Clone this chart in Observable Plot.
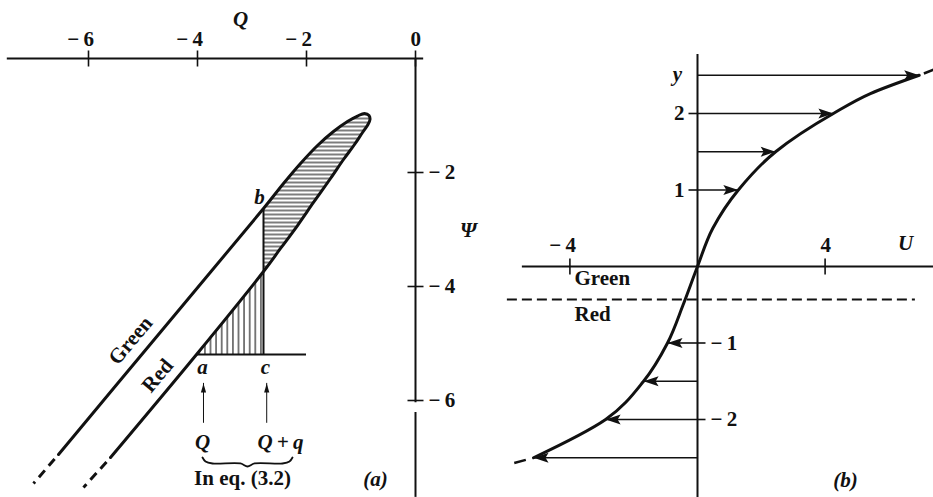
<!DOCTYPE html>
<html><head><meta charset="utf-8">
<script src="https://cdn.jsdelivr.net/npm/d3@7"></script>
<script src="https://cdn.jsdelivr.net/npm/@observablehq/plot@0.6"></script>
<style>
html,body{margin:0;padding:0;background:#fff;}
#fig{position:relative;width:933px;height:497px;overflow:hidden;background:#fff;}
#fig svg{position:absolute;top:0;}
</style></head><body><div id="fig"></div>
<script>
// ===== Panel (a): Q–Ψ diagram =====
const qTicks = [-6, -4, -2, 0];
const psiTicks = [-2, -4, -6];
const qAxisExtent = [-7.49, 0.15];
const psiAxisSegments = [{from: 0.0, to: -6.04}, {from: -6.21, to: -7.70}];

// Green branch (lower-left straight part, up to the tip of the loop)
const greenQ   = [-6.550, -4.670, -2.789, -2.422, -2.110, -1.798, -1.505, -1.248, -1.064, -0.936, -0.853, -0.835];
const greenPsi = [-6.947, -4.789, -2.632, -2.193, -1.842, -1.526, -1.281, -1.105, -1.009, -0.965, -1.000, -1.070];
// Red branch (from the tip of the loop down to lower-left)
const redQ   = [-0.835, -0.872, -0.972, -1.119, -1.321, -1.560, -1.872, -2.165, -2.477, -2.789, -4.018, -5.596];
const redPsi = [-1.070, -1.158, -1.298, -1.509, -1.772, -2.105, -2.526, -2.930, -3.333, -3.737, -5.193, -7.000];
// dashed continuations
const greenDashQ = [-6.550, -7.009], greenDashPsi = [-6.947, -7.456];
const redDashQ = [-5.596, -6.092],   redDashPsi = [-7.000, -7.526];

// points a, b, c
const aQ = -4.018, cQ = -2.789, acPsi = -5.193, bPsi = -2.632, lineEndQ = -2.0;
// small arrows under a and c
const smallArrowQ = [-3.89, -2.73];
const smallArrowPsi = [-6.40, -5.70];
// brace under "Q  Q+q"
const braceQ   = [-3.908, -3.853, -3.725, -3.211, -3.083, -2.954, -2.440, -2.312, -2.257];
const bracePsi = [-7.000, -7.070, -7.105, -7.105, -7.158, -7.105, -7.105, -7.070, -7.000];

const italicLabelsA = [
  {text: "Q", q: -3.211, psi: 0.684},
  {text: "\u03A8", q: 0.972, psi: -3.018},
  {text: "b", q: -2.862, psi: -2.439},
  {text: "a", q: -3.908, psi: -5.421},
  {text: "c", q: -2.752, psi: -5.421},
  {text: "Q", q: -3.908, psi: -6.737},
  {text: "Q\u2009+\u2009q", q: -2.477, psi: -6.737},
  {text: "(a)", q: -0.734, psi: -7.386}
];
const romanLabelsA = [{text: "In eq. (3.2)", q: -3.174, psi: -7.368}];
const lineLabelsA = [{text: "Green", q: -5.229, psi: -4.947}, {text: "Red", q: -4.734, psi: -5.561}];

// ===== Panel (b): U–y profile =====
const uTicks = [-4, 4];
const yTicksLeft = [1, 2];
const yTicksRight = [-1, -2];
const uAxisExtent = [-5.49, 7.40];
const yAxisExtent = [-3.02, 2.77];
const arrowY = [2.5, 2, 1.5, 1, -1, -1.5, -2, -2.5];
const arrowU = [6.95, 4.26, 2.45, 1.28, -0.94, -1.69, -2.88, -5.14];
const curveY = [-2.5, -2.0, -1.5, -1.0, -0.5, 0, 0.5, 1.0, 1.5, 2.0, 2.26, 2.5];
const curveU = [-5.14, -2.88, -1.69, -0.94, -0.45, 0, 0.48, 1.28, 2.45, 4.26, 5.42, 6.95];
const curveDashLowU = [-5.14, -5.80], curveDashLowY = [-2.5, -2.575];
const curveDashHighU = [6.95, 7.45],  curveDashHighY = [2.5, 2.58];
const separatorY = -0.431, separatorExtent = [-5.96, 6.83];
const italicLabelsB = [
  {text: "y", u: -0.627, y: 2.51},
  {text: "U", u: 6.52, y: 0.30},
  {text: "(b)", u: 4.64, y: -2.797}
];
const romanLabelsB = [{text: "Green", u: -3.856, y: -0.157}, {text: "Red", u: -3.856, y: -0.627}];

// ===== helpers =====
const ink = "#111";
const font = {fontFamily: "Liberation Serif", fontSize: 21, fontWeight: "bold"};
const zip = (xs, ys, kx, ky) => xs.map((v, i) => ({[kx]: v, [ky]: ys[i]}));
const neg = v => (v < 0 ? "\u2212\u2009" + Math.abs(v) : String(v));
const headRight = {draw(c) { c.moveTo(0, 0); c.lineTo(-15, -5); c.lineTo(-12, 0); c.lineTo(-15, 5); c.closePath(); }};
const headLeft  = {draw(c) { c.moveTo(0, 0); c.lineTo(15, -5); c.lineTo(12, 0); c.lineTo(15, 5); c.closePath(); }};
const headUp    = {draw(c) { c.moveTo(0, 0); c.lineTo(-2.6, 9); c.lineTo(2.6, 9); c.closePath(); }};
const tickV     = {draw(c) { c.moveTo(0, -8); c.lineTo(0, 8); }};
const tickH     = {draw(c) { c.moveTo(-8, 0); c.lineTo(8, 0); }};
const tickLeft  = {draw(c) { c.moveTo(0, 0); c.lineTo(-9, 0); }};
const tickRight = {draw(c) { c.moveTo(0, 0); c.lineTo(8, 0); }};

// ===== build panel (a) =====
const green = zip(greenQ, greenPsi, "q", "psi");
const red = zip(redQ, redPsi, "q", "psi");
const loop = green.concat(red.slice(1));
const hatchH = green.slice(2).concat(red.slice(1, 10));
const hatchV = [{q: aQ, psi: acPsi}, {q: cQ, psi: acPsi}, {q: cQ, psi: redPsi[9]}];
const smallArrows = smallArrowQ.map(q => ({q, psi0: smallArrowPsi[0], psi1: smallArrowPsi[1]}));

const plotA = Plot.plot({
  width: 500, height: 497, margin: 0,
  x: {domain: [-415 / 54.5, (500 - 415) / 54.5], axis: null},
  y: {domain: [-(497 - 58) / 57, 58 / 57], axis: null},
  style: {background: "transparent", overflow: "visible"},
  marks: [
    Plot.line(hatchH, {x: "q", y: "psi", curve: "catmull-rom", fill: "url(#hatchH)", stroke: "none"}),
    Plot.line(hatchV, {x: "q", y: "psi", fill: "url(#hatchV)", stroke: "none"}),
    // axes
    Plot.ruleY([0], {x1: qAxisExtent[0], x2: qAxisExtent[1], stroke: ink, strokeWidth: 2}),
    Plot.ruleX(psiAxisSegments, {x: 0, y1: "from", y2: "to", stroke: ink, strokeWidth: 2}),
    Plot.dot(qTicks, {x: d => d, y: 0, symbol: tickV, stroke: ink, fill: "none", strokeWidth: 1.6}),
    Plot.dot(psiTicks, {x: 0, y: d => d, symbol: tickH, stroke: ink, fill: "none", strokeWidth: 1.6}),
    Plot.text(qTicks, {x: d => d, y: 0, text: neg, textAnchor: "end", dx: 5.5, dy: -19, fill: ink, ...font}),
    Plot.text(psiTicks, {x: 0, y: d => d, text: neg, textAnchor: "start", dx: 13, fill: ink, ...font}),
    // a–c base line and c–b vertical
    Plot.ruleY([acPsi], {x1: aQ, x2: lineEndQ, stroke: ink, strokeWidth: 2}),
    Plot.ruleX([cQ], {y1: acPsi, y2: bPsi, stroke: ink, strokeWidth: 2}),
    // green/red curves
    Plot.line(loop, {x: "q", y: "psi", curve: "catmull-rom", stroke: ink, strokeWidth: 3}),
    Plot.line(zip(greenDashQ, greenDashPsi, "q", "psi"), {x: "q", y: "psi", stroke: ink, strokeWidth: 3, strokeLinecap: "butt", strokeDasharray: "9,6", strokeDashoffset: 9}),
    Plot.line(zip(redDashQ, redDashPsi, "q", "psi"), {x: "q", y: "psi", stroke: ink, strokeWidth: 3, strokeLinecap: "butt", strokeDasharray: "9,6", strokeDashoffset: 9}),
    // small arrows
    Plot.ruleX(smallArrows, {x: "q", y1: "psi0", y2: "psi1", stroke: ink, strokeWidth: 1}),
    Plot.dot(smallArrows, {x: "q", y: "psi1", symbol: headUp, fill: ink, stroke: "none"}),
    // brace
    Plot.line(zip(braceQ, bracePsi, "q", "psi"), {x: "q", y: "psi", curve: "catmull-rom", stroke: ink, strokeWidth: 1.8}),
    // labels
    Plot.text(italicLabelsA, {x: "q", y: "psi", text: "text", fill: ink, fontStyle: "italic", ...font}),
    Plot.text(romanLabelsA, {x: "q", y: "psi", text: "text", fill: ink, ...font}),
    Plot.text(lineLabelsA, {x: "q", y: "psi", text: "text", rotate: -50, fill: ink, ...font})
  ]
});
d3.select(plotA).insert("defs", ":first-child").html(
  '<pattern id="hatchH" patternUnits="userSpaceOnUse" width="8" height="4">' +
  '<path d="M0,2H8" stroke="#111" stroke-width="1.1"/></pattern>' +
  '<pattern id="hatchV" patternUnits="userSpaceOnUse" width="5.6" height="8">' +
  '<path d="M2.8,0V8" stroke="#111" stroke-width="1.1"/></pattern>'
);
plotA.style.left = "0px";

// ===== build panel (b) =====
const arrows = arrowY.map((y, i) => ({y, u: arrowU[i]}));
const curve = zip(curveU, curveY, "u", "y");

const plotB = Plot.plot({
  width: 433, height: 497, margin: 0,
  x: {domain: [(500 - 697) / 31.9, (933 - 697) / 31.9], axis: null},
  y: {domain: [(266 - 497) / 76.5, 266 / 76.5], axis: null},
  style: {background: "transparent", overflow: "visible"},
  marks: [
    Plot.ruleY([0], {x1: uAxisExtent[0], x2: uAxisExtent[1], stroke: ink, strokeWidth: 2}),
    Plot.ruleX([0], {y1: yAxisExtent[0], y2: yAxisExtent[1], stroke: ink, strokeWidth: 2}),
    Plot.ruleY([separatorY], {x1: separatorExtent[0], x2: separatorExtent[1], stroke: ink, strokeWidth: 2, strokeDasharray: "10,5"}),
    Plot.dot(uTicks, {x: d => d, y: 0, symbol: tickV, stroke: ink, fill: "none", strokeWidth: 1.6}),
    Plot.dot(yTicksLeft, {x: 0, y: d => d, symbol: tickLeft, stroke: ink, fill: "none", strokeWidth: 1.6}),
    Plot.dot(yTicksRight, {x: 0, y: d => d, symbol: tickRight, stroke: ink, fill: "none", strokeWidth: 1.6}),
    Plot.text(uTicks, {x: d => d, y: 0, text: neg, textAnchor: "end", dx: 6, dy: -21, fill: ink, ...font}),
    Plot.text(yTicksLeft, {x: 0, y: d => d, text: neg, textAnchor: "end", dx: -13, fill: ink, ...font}),
    Plot.text(yTicksRight, {x: 0, y: d => d, text: neg, textAnchor: "start", dx: 13, fill: ink, ...font}),
    // velocity arrows
    Plot.ruleY(arrows, {y: "y", x1: 0, x2: "u", stroke: ink, strokeWidth: 1.6}),
    Plot.dot(arrows.filter(d => d.u > 0), {x: "u", y: "y", symbol: headRight, fill: ink, stroke: "none"}),
    Plot.dot(arrows.filter(d => d.u < 0), {x: "u", y: "y", symbol: headLeft, fill: ink, stroke: "none"}),
    // profile curve (U as a smooth monotone function of y)
    Plot.line(curve, {x: "u", y: "y", curve: "monotone-y", stroke: ink, strokeWidth: 3}),
    Plot.line(zip(curveDashLowU, curveDashLowY, "u", "y"), {x: "u", y: "y", stroke: ink, strokeWidth: 2.5, strokeLinecap: "butt", strokeDasharray: "12,8", strokeDashoffset: 12}),
    Plot.line(zip(curveDashHighU, curveDashHighY, "u", "y"), {x: "u", y: "y", stroke: ink, strokeWidth: 2.5, strokeLinecap: "butt", strokeDasharray: "12,5", strokeDashoffset: 12}),
    // labels
    Plot.text(italicLabelsB, {x: "u", y: "y", text: "text", fill: ink, fontStyle: "italic", ...font}),
    Plot.text(romanLabelsB, {x: "u", y: "y", text: "text", textAnchor: "start", fill: ink, ...font})
  ]
});
plotB.style.left = "500px";

const fig = document.getElementById("fig");
fig.appendChild(plotA);
fig.appendChild(plotB);
</script>
</body></html>
